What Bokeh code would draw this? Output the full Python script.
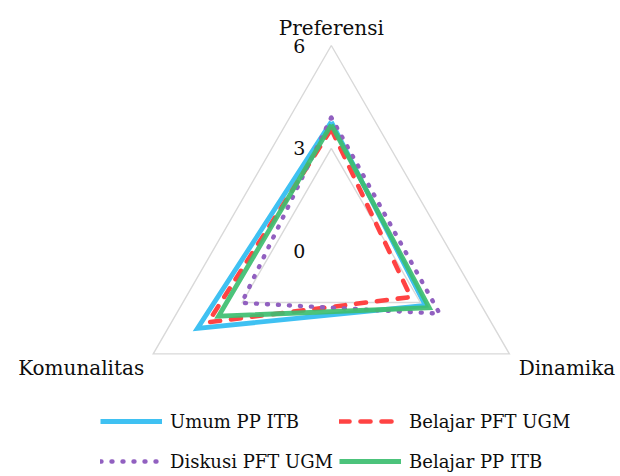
import numpy as np
from bokeh.plotting import figure
from bokeh.models import Legend, LegendItem, Range1d
from bokeh.core.properties import value
from bokeh.embed import file_html
from bokeh.resources import INLINE

# Radar axes (clockwise from the top) and the four series
axis_labels = ["Preferensi", "Dinamika", "Komunalitas"]
series_names = ["Umum PP ITB", "Belajar PFT UGM", "Diskusi PFT UGM", "Belajar PP ITB"]
umum_pp_itb = [3.77, 3.17, 4.51]
belajar_pft_ugm = [3.56, 2.68, 4.15]
diskusi_pft_ugm = [3.90, 3.65, 3.02]
belajar_pp_itb = [3.69, 3.30, 3.80]
tick_values = [0, 3, 6]
tick_labels = ["0", "3", "6"]

W, H = 620, 476
CX, CY = 330.8, 250.6          # radar centre in pixels
RADIUS_PX = 205.6              # pixel length of the outer ring
VMAX = tick_values[-1]
PPU = RADIUS_PX / VMAX         # pixels per value unit

FONT_NAME = "DejaVu Serif"
FONT = value(FONT_NAME)
TEXT_COLOR = "#0d0d0d"

angles = np.deg2rad([90, -30, 210])


def ring(vals):
    xs = [v * np.cos(a) for v, a in zip(vals, angles)]
    ys = [v * np.sin(a) for v, a in zip(vals, angles)]
    return xs + xs[:1], ys + ys[:1]


p = figure(
    width=W, height=H,
    x_range=Range1d(-CX / PPU, (W - CX) / PPU),
    y_range=Range1d(-(H - CY) / PPU, CY / PPU),
    x_axis_type=None, y_axis_type=None,
    toolbar_location=None, output_backend="svg",
    min_border=0, outline_line_color=None,
    background_fill_color="white", border_fill_color="white",
)
p.xgrid.visible = False
p.ygrid.visible = False

# grid rings
for t in tick_values[1:]:
    gx, gy = ring([t] * 3)
    p.line(gx, gy, line_color="#D9D9D9", line_width=1.4, line_join="miter")

# tick labels along the vertical axis
p.text(x=[-26 / PPU] * len(tick_values), y=tick_values, text=tick_labels,
       text_align="right", text_baseline="middle",
       text_font=FONT, text_font_size="19px", text_color=TEXT_COLOR)

# category labels
vx = [VMAX * np.cos(a) for a in angles]
vy = [VMAX * np.sin(a) for a in angles]
label_style = dict(text_baseline="alphabetic", text_font=FONT,
                   text_font_size="20px", text_color=TEXT_COLOR)
p.text(x=[vx[0]], y=[vy[0] + 17.7 / PPU], text=[axis_labels[0]],
       text_align="center", **label_style)
p.text(x=[vx[1] + 9.3 / PPU], y=[vy[1] - 14 / PPU], text=[axis_labels[1]],
       text_align="left", **label_style)
p.text(x=[vx[2] - 9 / PPU], y=[vy[2] - 14 / PPU], text=[axis_labels[2]],
       text_align="right", **label_style)

# series
bx, by = ring(umum_pp_itb)
r_blue = p.line(bx, by, line_color="#3FC1F2", line_width=4.8, line_join="miter")

rx, ry = ring(belajar_pft_ugm)
r_red = p.line(rx, ry, line_color="#FF4343", line_width=4.6, line_join="round",
               line_cap="round", line_dash="10 11")

dx, dy = ring(diskusi_pft_ugm)
r_purple = p.line(dx, dy, line_color="#9160C0", line_width=4.4, line_join="round",
                  line_cap="round", line_dash="1 10")

gx, gy = ring(belajar_pp_itb)
r_green = p.line(gx, gy, line_color="#3DBE70", line_width=4.8, line_join="miter",
                 line_alpha=0.92)

legend_style = dict(
    orientation="vertical", glyph_width=62, glyph_height=30, label_height=30,
    spacing=10, padding=0, margin=0, border_line_color=None,
    background_fill_alpha=0, label_standoff=8,
    label_text_font=FONT_NAME, label_text_font_size="18px",
    label_text_color=TEXT_COLOR,
)
leg_left = Legend(items=[LegendItem(label=series_names[0], renderers=[r_blue]),
                         LegendItem(label=series_names[2], renderers=[r_purple])],
                  location=(100, 0), **legend_style)
leg_right = Legend(items=[LegendItem(label=series_names[1], renderers=[r_red]),
                          LegendItem(label=series_names[3], renderers=[r_green])],
                   location=(339, 0), **legend_style)
p.add_layout(leg_left)
p.add_layout(leg_right)

open("out.html", "w").write(file_html(p, INLINE))
